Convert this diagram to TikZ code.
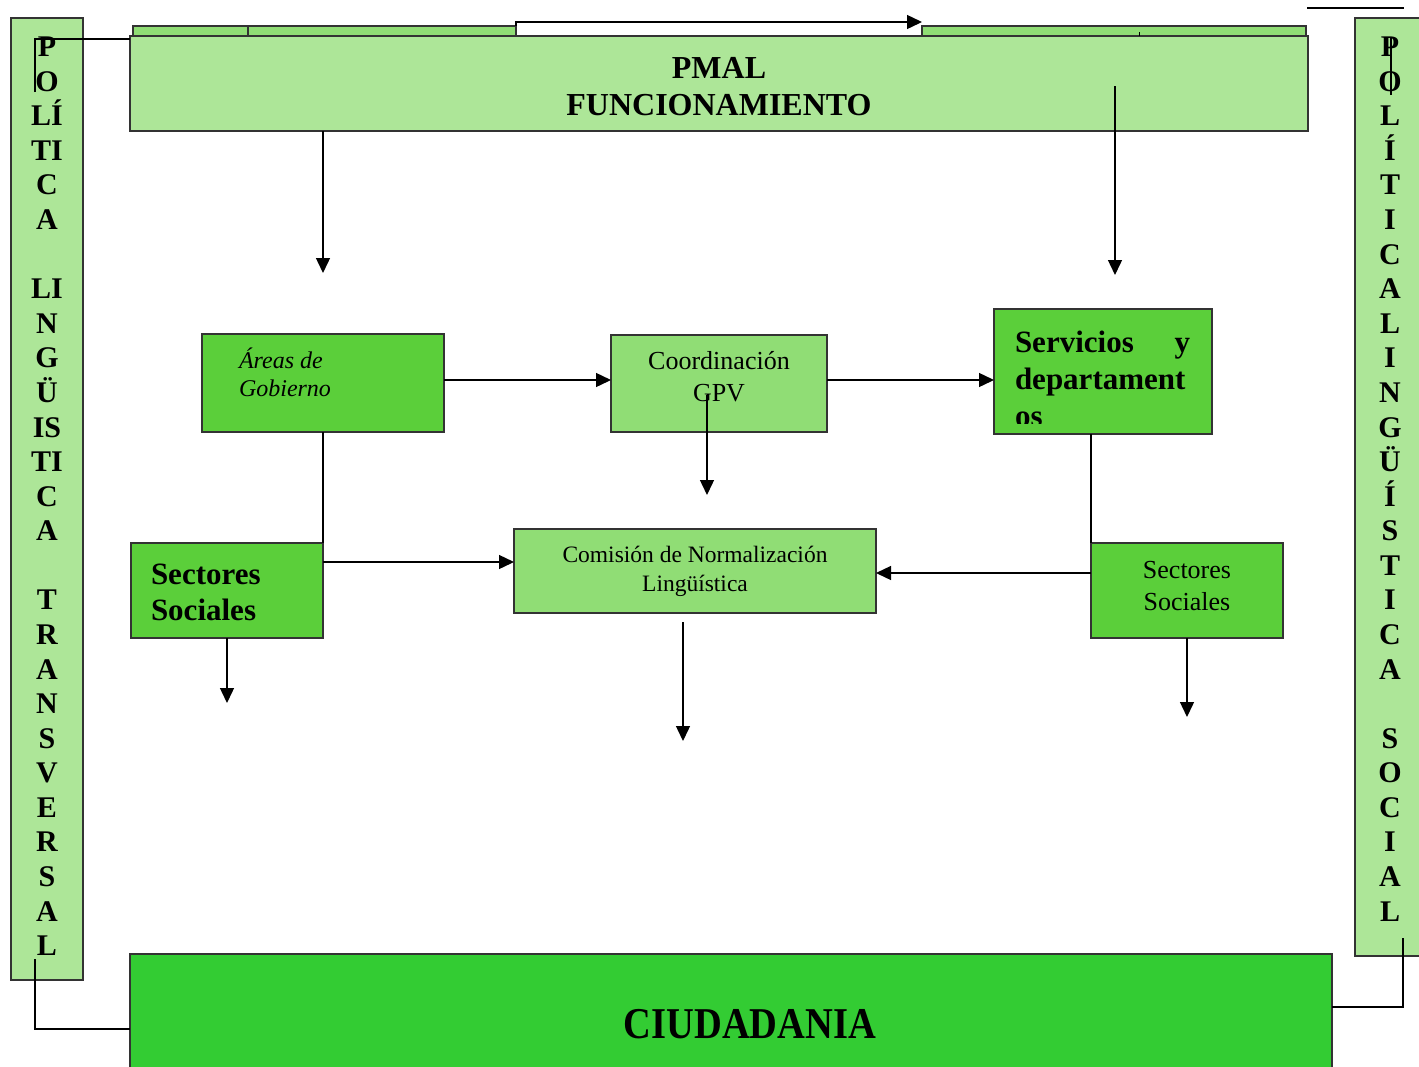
\documentclass[tikz,border=0pt]{standalone}
\usepackage{fontspec}
\usepackage{graphicx}
\setmainfont{Liberation Serif}
\usetikzlibrary{arrows.meta,calc}
\definecolor{lgreen}{HTML}{ADE698}
\definecolor{mgreen}{HTML}{90DD75}
\definecolor{dgreen}{HTML}{5BCF3A}
\definecolor{cgreen}{HTML}{33CC33}
\newcommand\cfont{\fontsize{30}{34.58}\selectfont\bfseries}
\begin{document}
\begin{tikzpicture}[x=1pt,y=-1pt,
  bx/.style={draw=black!80, line width=1.3pt, inner sep=0pt, outer sep=0pt, anchor=north west},
  arr/.style={line width=1.4pt, -{Triangle[length=15pt,width=14pt]}},
  ln/.style={line width=1.4pt},
  txt/.style={inner sep=0pt, outer sep=0pt, text=black}]
\useasboundingbox (0,0) rectangle (1419,1066);
% boxes
\node[bx, fill=lgreen, minimum width=72pt, minimum height=962pt] (lcol) at (11,18) {};
\node[bx, fill=lgreen, minimum width=80pt, minimum height=938pt] (rcol) at (1355,18) {};
\node[bx, fill=mgreen, minimum width=115pt, minimum height=10pt] (s1a) at (133,26) {};
\node[bx, fill=mgreen, minimum width=268pt, minimum height=10pt] (s1b) at (248,26) {};
\node[bx, fill=mgreen, minimum width=384pt, minimum height=10pt] (s2) at (922,26) {};
\node[bx, fill=lgreen, minimum width=1178pt, minimum height=95pt] (pmal) at (130,36) {};
\node[bx, fill=dgreen, minimum width=242pt, minimum height=98pt] (areas) at (202,334) {};
\node[bx, fill=mgreen, minimum width=216pt, minimum height=97pt] (coord) at (611,335) {};
\node[bx, fill=dgreen, minimum width=218pt, minimum height=125pt] (serv) at (994,309) {};
\node[bx, fill=dgreen, minimum width=192pt, minimum height=95pt] (ss1) at (131,543) {};
\node[bx, fill=mgreen, minimum width=362pt, minimum height=84pt] (com) at (514,529) {};
\node[bx, fill=dgreen, minimum width=192pt, minimum height=95pt] (ss2) at (1091,543) {};
\node[bx, fill=cgreen, minimum width=1202pt, minimum height=150pt] (ciud) at (130,954) {};
% texts
\node[txt, font=\cfont, align=center, anchor=north] (ltxt) at (47,37)
  {P\\O\\LÍ\\TI\\C\\A\\\mbox{}\\LI\\N\\G\\Ü\\IS\\TI\\C\\A\\\mbox{}\\T\\R\\A\\N\\S\\V\\E\\R\\S\\A\\L};
\node[txt, font=\cfont, align=center, anchor=north] (rtxt) at (1390,37)
  {P\\O\\L\\Í\\T\\I\\C\\A\\L\\I\\N\\G\\Ü\\Í\\S\\T\\I\\C\\A\\\mbox{}\\S\\O\\C\\I\\A\\L};
\node[txt, font=\fontsize{32}{37}\selectfont\bfseries, align=center] (pmaltxt) at (719,86.5) {PMAL\\FUNCIONAMIENTO};
\node[txt, font=\fontsize{24}{28}\selectfont\itshape, align=left, anchor=west] (areastxt) at (239,372) {Áreas de\\Gobierno};
\node[txt, font=\fontsize{26}{32}\selectfont, align=center] (coordtxt) at (719,377) {Coordinación\\GPV};
\begin{scope}
\clip (994,309) rectangle (1212,423);
\node[txt, font=\fontsize{31}{37}\selectfont\bfseries, align=left, anchor=north west] (servtxt) at (1015,331)
  {\makebox[175pt][l]{Servicios\hfill y}\\departament\\os};
\end{scope}
\node[txt, font=\fontsize{31}{36}\selectfont\bfseries, align=left, anchor=west] (ss1txt) at (151,592) {Sectores\\Sociales};
\node[txt, font=\fontsize{23.5}{29}\selectfont, align=center] (comtxt) at (695,571) {Comisión de Normalización\\Lingüística};
\node[txt, font=\fontsize{26}{32}\selectfont, align=center] (ss2txt) at (1187,586) {Sectores\\Sociales};
\node[txt, font=\fontsize{44}{48}\selectfont\bfseries] (ciudtxt) at (750,1024) {\scalebox{0.875}[1]{CIUDADANIA}};
% coordinates
\coordinate (a1e) at (323,273);
\coordinate (a2s) at (1115,86);
\coordinate (a2e) at (1115,275);
\coordinate (g1) at (707,395);
\coordinate (g2) at (707,495);
\coordinate (ss1e) at (227,703);
\coordinate (ss2e) at (1187,717);
\coordinate (c1) at (683,622);
\coordinate (c2) at (683,741);
\coordinate (t1) at (516,22);
\coordinate (lc1) at (35,92);
\coordinate (lc2) at (35,959);
\coordinate (rc1) at (1391,38);
\coordinate (rc1b) at (1391,95);
\coordinate (rc2) at (1403,938);
\coordinate (tr1) at (1307,8);
\coordinate (tr2) at (1404,8);
\coordinate (tk1) at (1139,32);
\coordinate (tk2) at (1139,36);
% connectors
\draw[arr] (pmal.south -| ss1.east) -- (a1e);
\draw[arr] (a2s) -- (a2e);
\draw[arr] ([yshift=3pt]areas.east) -- ([yshift=3pt]areas.east -| coord.west);
\draw[arr] ([yshift=3.5pt]coord.east) -- ([yshift=3.5pt]coord.east -| serv.west);
\draw[arr] (g1) -- (g2);
\draw[ln] (areas.south) -- (ss1.north east);
\draw[ln] (ss2.north west |- serv.south) -- (ss2.north west);
\draw[arr] ([yshift=-19pt]ss1.north east) -- ([yshift=-19pt]ss1.north east -| com.west);
\draw[arr] (ss1.south) -- (ss1e);
\draw[arr] ([yshift=17.5pt]ss2.west) -- ([yshift=17.5pt]ss2.west -| com.east);
\draw[arr] (ss2.south) -- (ss2e);
\draw[arr] (c1) -- (c2);
\draw[arr] (s1b.north east) -- (t1) -- (t1 -| s2.north west);
\draw[ln] (lc1) |- ([yshift=-3pt]pmal.north west);
\draw[ln] (rc1) -- (rc1b);
\draw[ln] (lc2) |- (ciud.west);
\draw[ln] (rc2) |- ([yshift=22pt]ciud.east);
\draw[ln] (tr1) -- (tr2);
\draw[line width=0.8pt] (tk1) -- (tk2);
\end{tikzpicture}
\end{document}
